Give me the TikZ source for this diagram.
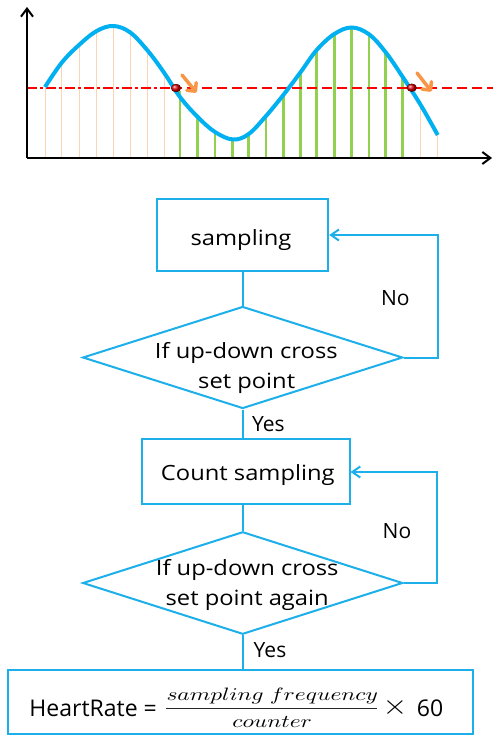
\documentclass[tikz,border=0pt]{standalone}
\usepackage{fontspec}
\setmainfont{Open Sans}
\usepackage{graphicx}
\usetikzlibrary{arrows.meta,shapes.geometric}
\definecolor{cblue}{HTML}{00B0F0}
\definecolor{fblue}{HTML}{1CAFEA}
\definecolor{peach}{HTML}{FBD4B4}
\definecolor{lgreen}{HTML}{92D050}
\definecolor{aorange}{HTML}{F79646}
\definecolor{dred}{HTML}{FF0000}
\newcommand\stx[1]{\scalebox{1.13}[1]{#1}}
\begin{document}
\begin{tikzpicture}[x=1bp,y=-1bp,
  axis/.style={line width=2bp, black, -{Straight Barb[length=8bp,width=12bp]}},
  flow/.style={draw=fblue, line width=2bp},
  boxnode/.style={flow, rectangle, inner sep=0pt},
  dianode/.style={flow, diamond, inner sep=0pt},
  loopline/.style={fblue, line width=2bp, -{Straight Barb[length=8bp,width=11bp]}},
  lbl/.style={font=\fontsize{21bp}{25bp}\selectfont, inner sep=0pt, anchor=base},
  flbl/.style={font=\fontsize{23bp}{27bp}\selectfont, inner sep=0pt, anchor=base},
  mlbl/.style={inner sep=0pt, anchor=base},
  sampleO/.style={peach, line width=1bp},
  sampleG/.style={lgreen, line width=2.5bp},
  setline/.style={dred, line width=2bp},
  cross/.style={aorange, line width=3.5bp, line cap=round, -{Straight Barb[length=6bp,width=12bp,round]}},
  dot/.style={shading=ball, ball color=red!85!black}
]
\useasboundingbox (0,0) rectangle (493,743);

% ---------------- graph ----------------
\foreach \x/\y in {45/87, 61.7/62.7, 79/45, 96.7/31, 113.3/26, 130/32.3, 147.7/50.7, 164.3/74, 420.7/106, 437.7/135}
  \draw[sampleO] (\x,158) -- (\x,\y);
\foreach \x/\y in {180/90.7, 197.7/115.7, 215/131.7, 232.3/141, 248.7/134, 266/116, 283.3/95, 300.7/74, 316.7/50, 334.3/34, 351.7/28.3, 369/34.3, 385.7/52.3, 402.7/78.3}
  \draw[sampleG] (\x,158) -- (\x,\y);

\coordinate (sl0) at (27,87.5);
\coordinate (sl1) at (172,87.5);
\coordinate (sl2) at (493,87.5);
\draw[setline, dash pattern=on 10bp off 3bp on 3bp off 3bp] (sl0) -- (sl1);
\draw[setline, dash pattern=on 10bp off 5bp] (sl1) -- (sl2);

\draw[cblue, line width=4bp] plot[smooth, tension=0.6] coordinates {(45,87) (61.7,62.7) (79,45) (96.7,31) (113.3,26) (130,32.3) (147.7,50.7) (164.3,73) (180,97) (197.7,117) (215,132) (233,139.5) (248.7,134) (266,116) (283.3,95) (300.7,72) (316.7,50) (334.3,34) (351.7,27.5) (369,34.3) (385.7,52.3) (402.7,77) (420.7,105) (437.7,135)};

\coordinate (yb) at (27,158);
\coordinate (yt) at (27,7);
\coordinate (xr) at (492,158);
\draw[axis] (yb) -- (yt);
\draw[axis] (yb) -- (xr);

\fill[dot] (176,88) ellipse [x radius=5bp, y radius=4bp];
\fill[dot] (411.7,87.7) ellipse [x radius=5bp, y radius=4bp];
\coordinate (a1s) at (182,75);
\coordinate (a1e) at (196.5,92.5);
\coordinate (a2s) at (417,73);
\coordinate (a2e) at (431.5,91.5);
\draw[cross] (a1s) -- (a1e);
\draw[cross] (a2s) -- (a2e);

% ---------------- flowchart ----------------
\node[boxnode, minimum width=171bp, minimum height=72bp] (b1) at (242.7,235) {};
\node[dianode, minimum width=320bp, minimum height=102bp] (d1) at (242.7,357.5) {};
\node[boxnode, minimum width=208bp, minimum height=65bp] (b2) at (245.5,471) {};
\node[dianode, minimum width=320bp, minimum height=102.5bp] (d2) at (242.7,583) {};
\node[boxnode, minimum width=464bp, minimum height=64bp] (b3) at (240.5,702) {};

\node[lbl] (t1) at (241,245) {\stx{sampling}};
\node[lbl] (d1a) at (246.3,358) {\stx{If up-down cross}};
\node[lbl] (d1b) at (246.7,388.3) {\stx{set point}};
\node[lbl] (t2) at (247.8,480) {\stx{Count sampling}};
\node[lbl] (d2a) at (247.2,575) {\stx{If up-down cross}};
\node[lbl] (d2b) at (247.2,605) {\stx{set point again}};
\node[lbl] (no1) at (395.3,305) {No};
\node[lbl] (no2) at (397,538) {No};
\node[lbl] (yes1) at (268.3,431.7) {Yes};
\node[lbl] (yes2) at (270,657.7) {Yes};

\coordinate (c1) at (437.5,357.5);
\coordinate (c2) at (437.5,235);
\coordinate (c3) at (437,583);
\coordinate (c4) at (437,472);
\draw[flow] (b1.south) -- (d1.north);
\draw[loopline] (d1.east) -- (c1) -- (c2) -- (b1.east);
\draw[flow] (d1.south) -- (d1.south |- b2.north);
\draw[flow] (d2.north |- b2.south) -- (d2.north);
\draw[loopline] (d2.east) -- (c3) -- (c4) -- (b2.east |- c4);
\draw[flow] (d2.south) -- (d2.south |- b3.north);

% ---------------- formula ----------------
\node[flbl, anchor=base west] (hr) at (29.3,716) {HeartRate =};
\node[mlbl] (num) at (272.3,700) {\scalebox{2.35}[1.8]{$sampling\ frequency$}};
\coordinate (fb0) at (166,708.7);
\coordinate (fb1) at (377,708.7);
\draw[line width=1.2bp, black!85] (fb0) -- (fb1);
\node[mlbl] (den) at (272.2,727) {\scalebox{2.35}[1.8]{$counter$}};
\node[inner sep=0pt] (tm) at (395,707.5) {\scalebox{3.2}[2.8]{$\times$}};
\node[flbl, anchor=base west] (sixty) at (416.7,716) {60};
\end{tikzpicture}
\end{document}
